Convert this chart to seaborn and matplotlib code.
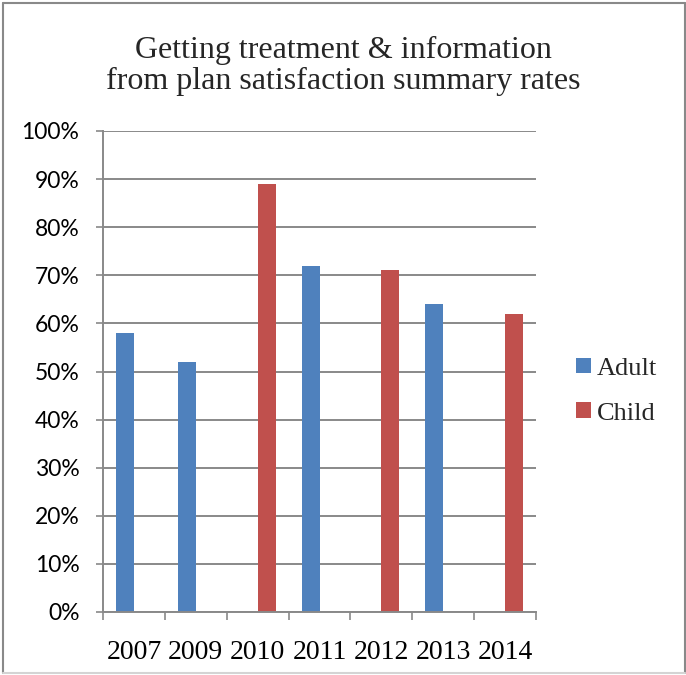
import matplotlib
matplotlib.use("Agg")
import matplotlib.pyplot as plt
from matplotlib.lines import Line2D
from matplotlib.ticker import FixedLocator
import numpy as np
import pandas as pd
import seaborn as sns

# Survey years, respondent group and satisfaction rate (%) per year
years = ["2007", "2009", "2010", "2011", "2012", "2013", "2014"]
groups = ["Adult", "Adult", "Child", "Adult", "Child", "Adult", "Child"]
rates = [58, 52, 89, 72, 71, 64, 62]

series = ["Adult", "Child"]
colors = ["#4F81BD", "#C0504D"]
yticks = list(range(0, 101, 10))

title = "Getting treatment & information\nfrom plan satisfaction summary rates"

df = pd.DataFrame({"year": years, "group": groups, "rate": rates})

sns.set_theme(style="white")
GRAY = "#898989"

fig = plt.figure(figsize=(6.86, 6.75), dpi=100)
ax = fig.add_axes([103 / 686, 1 - 612 / 675, (536 - 103) / 686, (612 - 131) / 675])

sns.barplot(data=df, x="year", y="rate", hue="group", order=years,
            hue_order=series, palette=colors, width=0.58, gap=0, dodge=True,
            saturation=1, linewidth=0, errorbar=None, ax=ax)

ax.set_xlim(-0.5, len(years) - 0.5)
ax.set_ylim(0, 100)
ax.set_xlabel("")
ax.set_ylabel("")

# y axis: percentage ticks with horizontal gridlines
ax.set_yticks(yticks)
ax.set_yticklabels([f"{v}%" for v in yticks], fontfamily="Lato", fontsize=16.5,
                   color="black")
ax.yaxis.grid(True, color=GRAY, lw=1.4)
ax.xaxis.grid(False)
ax.set_axisbelow(True)
ax.tick_params(axis="y", which="major", left=True, length=5, width=1.2,
               color=GRAY, pad=12)

# x axis: labels centred on categories, tick marks between them
ax.set_xticks(range(len(years)))
ax.set_xticklabels(years, fontfamily="Liberation Serif", fontsize=20,
                   color="black")
ax.tick_params(axis="x", which="major", length=0, pad=20)
ax.xaxis.set_minor_locator(FixedLocator(np.arange(-0.5, len(years), 1.0)))
ax.tick_params(axis="x", which="minor", bottom=True, length=6, width=1.2,
               color=GRAY)

for side in ("top", "right"):
    ax.spines[side].set_visible(False)
for side in ("left", "bottom"):
    ax.spines[side].set_color(GRAY)
    ax.spines[side].set_linewidth(1.4)

# legend to the right of the plot
handles, labels = ax.get_legend_handles_labels()
ax.legend(handles, labels, loc="center left", bbox_to_anchor=(576 / 686, 1 - 391 / 675),
          bbox_transform=fig.transFigure, frameon=False,
          prop={"family": "Liberation Serif", "size": 19},
          handlelength=0.55, handleheight=0.55, handletextpad=0.25,
          labelspacing=0.85, borderaxespad=0, borderpad=0)

fig.text(0.5, 1 - 66 / 675, title, ha="center", va="center",
         fontfamily="Liberation Serif", fontsize=23, linespacing=1.12)

# chart frame
fig.add_artist(Line2D([2.5 / 686, 2.5 / 686], [2 / 675, 1 - 3 / 675],
                      transform=fig.transFigure, color=GRAY, lw=1.5))
fig.add_artist(Line2D([2.5 / 686, 1 - 1.5 / 686], [1 - 3 / 675, 1 - 3 / 675],
                      transform=fig.transFigure, color=GRAY, lw=1.5))
fig.add_artist(Line2D([1 - 1.5 / 686, 1 - 1.5 / 686], [2 / 675, 1 - 3 / 675],
                      transform=fig.transFigure, color=GRAY, lw=1.5))
fig.add_artist(Line2D([2.5 / 686, 1 - 1.5 / 686], [2 / 675, 2 / 675],
                      transform=fig.transFigure, color="#d4d4d4", lw=1.5))

fig.savefig("out.png", dpi=100)
